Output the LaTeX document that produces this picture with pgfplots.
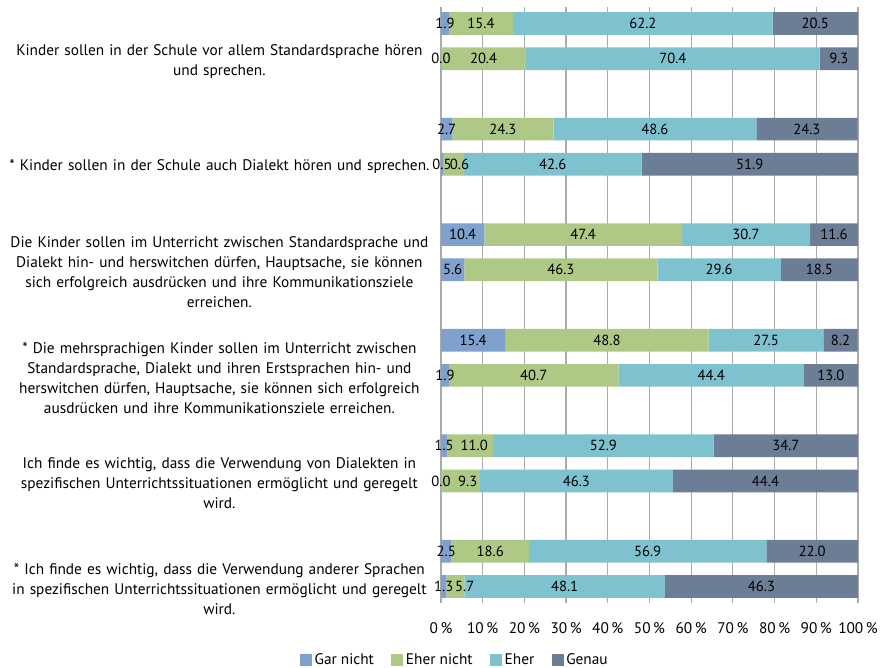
\documentclass[border=0pt]{standalone}
\usepackage{pgfplots}
\pgfplotsset{compat=1.18}
\usepackage{pgfplotstable}
\usepackage{fontspec}
\setmainfont{PT Sans}

\definecolor{garnicht}{RGB}{128,160,206}
\definecolor{ehernicht}{RGB}{173,201,133}
\definecolor{eher}{RGB}{126,194,207}
\definecolor{genau}{RGB}{108,126,149}

% widths of the segments and the printed labels
\pgfplotstableread{
y  gn   en   e    g    lgn  len  le   lg   dx
0  1.9  15.4 62.2 20.5 1.9  15.4 62.2 20.5 0
1  0.01 20.4 70.4 9.19 0.0  20.4 70.4 9.3  0
3  2.7  24.3 48.6 24.3 2.7  24.3 48.6 24.3 0
4  0.5  5.0  42.6 51.9 0.5  0.6  42.6 51.9 4.5
6  10.4 47.4 30.7 11.5 10.4 47.4 30.7 11.6 0
7  5.6  46.3 29.6 18.5 5.6  46.3 29.6 18.5 0
9  15.4 48.8 27.5 8.2  15.4 48.8 27.5 8.2  0
10 1.9  40.7 44.4 13.0 1.9  40.7 44.4 13.0 0
12 1.5  11.0 52.9 34.6 1.5  11.0 52.9 34.7 3
13 0.01 9.3  46.3 44.39 0.0 9.3  46.3 44.4 5.5
15 2.5  18.6 56.9 22.0 2.5  18.6 56.9 22.0 0
16 1.3  4.3  48.1 46.3 1.3  5.7  48.1 46.3 7
}\data

\begin{document}
\begin{tikzpicture}
\begin{axis}[
  name=ax,
  scale only axis, width=312.75pt, height=447pt,
  xbar stacked, bar width=17pt,
  xmin=0, xmax=100, ymin=-0.47, ymax=16.47, y dir=reverse,
  xtick={0,10,...,100},
  xticklabel={\pgfmathprintnumber{\tick}\,\%},
  /pgf/number format/assume math mode=true,
  xticklabel style={font=\fontsize{11.5}{13}\selectfont, yshift=-11pt},
  ytick={1,4,7,10,13,16},
  yticklabels={
    {Kinder sollen in der Schule vor allem Standardsprache hören\\und sprechen.},
    {* Kinder sollen in der Schule auch Dialekt hören und sprechen.},
    {Die Kinder sollen im Unterricht zwischen Standardsprache und\\Dialekt hin- und herswitchen dürfen, Hauptsache, sie können\\sich erfolgreich ausdrücken und ihre Kommunikationsziele\\erreichen.},
    {* Die mehrsprachigen Kinder sollen im Unterricht zwischen\\Standardsprache, Dialekt und ihren Erstsprachen hin- und\\herswitchen dürfen, Hauptsache, sie können sich erfolgreich\\ausdrücken und ihre Kommunikationsziele erreichen.},
    {Ich finde es wichtig, dass die Verwendung von Dialekten in\\spezifischen Unterrichtssituationen ermöglicht und geregelt\\wird.},
    {* Ich finde es wichtig, dass die Verwendung anderer Sprachen\\in spezifischen Unterrichtssituationen ermöglicht und geregelt\\wird.}
  },
  yticklabel style={font=\fontsize{11.5}{15}\selectfont, text width=330pt, align=center, inner sep=0pt, xshift=-1pt, yshift=-2pt},
  axis line style={draw=none},
  tick style={draw=none},
  xmajorgrids, grid style={color=black!33, line width=0.9pt},
  point meta=explicit symbolic,
  nodes near coords,
  every node near coord/.append style={font=\fontsize{11}{12}\selectfont, text=black},
  legend image code/.code={\fill[#1] (0pt,-4.5pt) rectangle (9pt,4.5pt);},
  legend style={at={(0.034,-0.0956)}, anchor=center, draw=none, legend columns=4,
    font=\fontsize{11.5}{13}\selectfont, inner sep=0pt,
    /tikz/every even column/.append style={column sep=11pt}},
]
\addplot[fill=garnicht, draw=none] table[x=gn, y=y, meta=lgn]{\data};
\addplot[fill=ehernicht, draw=none, visualization depends on={\thisrow{dx}\as\dx},
  every node near coord/.append style={xshift=\dx pt}] table[x=en, y=y, meta=len]{\data};
\addplot[fill=eher, draw=none] table[x=e, y=y, meta=le]{\data};
\addplot[fill=genau, draw=none] table[x=g, y=y, meta=lg]{\data};
\legend{Gar nicht, Eher nicht, Eher, Genau}
\end{axis}
\pgfresetboundingbox
\path ([xshift=-330.75pt, yshift=-48pt]ax.south west) rectangle ([xshift=17.25pt, yshift=5.25pt]ax.north east);
\end{tikzpicture}
\end{document}
